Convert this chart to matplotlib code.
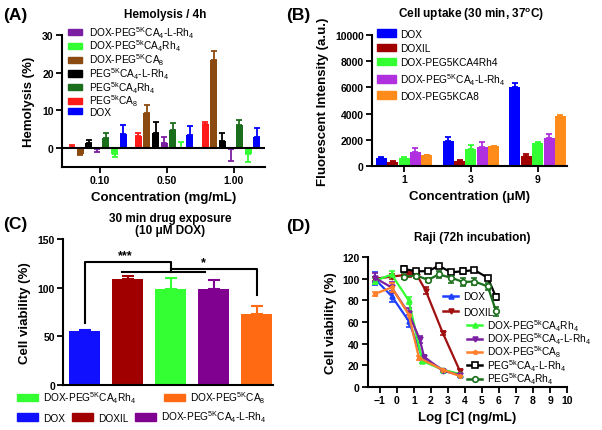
import matplotlib
matplotlib.use('Agg')
import matplotlib.pyplot as plt
from matplotlib.patches import Patch
from matplotlib.lines import Line2D
import numpy as np

plt.rcParams['font.family'] = ['Liberation Sans', 'DejaVu Sans']
plt.rcParams['mathtext.default'] = 'regular'
plt.rcParams['axes.linewidth'] = 1.5

# ---------------- data ----------------
# (A) hemolysis
hemo_conc = ['0.10', '0.50', '1.00']
hemo_names = ['PEG$^{5k}$CA$_8$', 'DOX-PEG$^{5K}$CA$_8$', 'PEG$^{5K}$CA$_4$-L-Rh$_4$',
              'DOX-PEG$^{5K}$CA$_4$-L-Rh$_4$', 'PEG$^{5k}$CA$_4$Rh$_4$',
              'DOX-PEG$^{5k}$CA$_4$Rh$_4$', 'DOX']
hemo_colors = ['#ff1a1a', '#8b4a10', '#000000', '#7b1fa2', '#1b6e1b', '#33ff33', '#0000ff']
hemo_vals = [[0.2, 3.2, 6.4],
             [-1.5, 9.2, 23.3],
             [1.4, 4.0, 1.8],
             [-0.3, 1.3, -0.3],
             [2.6, 4.7, 6.2],
             [-1.5, 0.0, -1.5],
             [3.7, 3.5, 3.1]]
hemo_err = [[0.7, 0.8, 0.6],
            [0.4, 2.2, 2.5],
            [0.9, 3.0, 2.2],
            [0.6, 1.6, 3.1],
            [1.3, 1.9, 1.3],
            [0.7, 1.6, 2.2],
            [2.5, 2.5, 2.2]]
hemo_legend_order = [3, 5, 1, 2, 4, 0, 6]

# (B) cell uptake
up_conc = ['1', '3', '9']
up_names = ['DOX', 'DOXIL', 'DOX-PEG5KCA4Rh4', 'DOX-PEG$^{5K}$CA$_4$-L-Rh$_4$', 'DOX-PEG5KCA8']
up_colors = ['#0000ff', '#a00000', '#33ff33', '#b030e0', '#ff8c1a']
up_vals = [[600, 1900, 6000],
           [300, 400, 760],
           [600, 1290, 1770],
           [1040, 1440, 2130],
           [810, 1520, 3850]]
up_err = [[60, 280, 330],
          [100, 30, 150],
          [60, 280, 80],
          [350, 360, 350],
          [20, 30, 70]]

# (C) viability after 30 min exposure
via_names = ['DOX', 'DOXIL', 'DOX-PEG$^{5K}$CA$_4$Rh$_4$', 'DOX-PEG$^{5K}$CA$_4$-L-Rh$_4$',
             'DOX-PEG$^{5K}$CA$_8$']
via_colors = ['#1010ff', '#a00000', '#33ff33', '#800090', '#ff6a13']
via_vals = [55.6, 109.5, 98.5, 98.5, 73.5]
via_err = [1.0, 2.5, 12.0, 9.5, 8.2]

# (D) Raji dose response
d_names = ['DOX', 'DOXIL', 'DOX-PEG$^{5k}$CA$_4$Rh$_4$', 'DOX-PEG$^{5k}$CA$_4$-L-Rh$_4$',
           'DOX-PEG$^{5k}$CA$_8$', 'PEG$^{5k}$CA$_4$-L-Rh$_4$', 'PEG$^{5k}$CA$_4$Rh$_4$']
d_colors = ['#1f3fff', '#a01010', '#33ff33', '#7a1fa2', '#ff7f2a', '#000000', '#1b6e1b']
d_markers = ['^', 'v', '^', 'v', '*', 's', 'o']
d_x = [[-1.3, -0.3, 0.7, 1.5, 2.7, 3.7],
       [-1.3, -0.3, 0.7, 1.2, 1.7, 2.7, 3.7],
       [-1.3, -0.3, 0.7, 1.5, 2.7, 3.7],
       [-1.3, -0.3, 0.7, 1.35, 1.6, 2.7, 3.7],
       [-1.3, -0.3, 0.7, 1.3, 2.7, 3.7],
       [0.43, 1.15, 1.84, 2.46, 3.2, 3.9, 4.56, 5.34, 5.83],
       [0.43, 1.15, 1.84, 2.46, 3.2, 3.9, 4.56, 5.34, 5.83]]
d_y = [[100, 84, 61, 27, 16, 11],
       [100, 102, 104, 103, 89, 50, 15],
       [98, 104, 80, 24, 16, 12],
       [101, 92, 68, 44, 28, 15, 11],
       [86, 92, 67, 27, 16, 10],
       [109, 107, 107, 112, 106, 107, 108, 101, 83],
       [102, 103, 99, 104, 101, 97, 97.5, 93, 70]]
d_e = [[6, 5, 6, 2, 1, 1],
       [2, 2, 2, 2, 3, 2, 2],
       [3, 3, 3, 2, 1, 1],
       [4, 5, 5, 3, 2, 1, 1],
       [2, 4, 3, 2, 1, 1],
       [3, 2, 2, 2, 2, 3, 2, 2, 3],
       [2, 2, 2, 3, 5, 4, 3, 3, 4]]

fig = plt.figure(figsize=(6.02, 4.31), dpi=100)
LAB = 9.5
LEG = 7.3


def style_axes(ax):
    ax.spines['top'].set_visible(False)
    ax.spines['right'].set_visible(False)
    ax.tick_params(direction='out', width=1.3, length=4, labelsize=7.5, pad=2)
    for lab in ax.get_xticklabels() + ax.get_yticklabels():
        lab.set_fontweight('bold')


# ---------------- (A) ----------------
axA = fig.add_axes([0.103, 0.61, 0.337, 0.3065])
nA = len(hemo_names)
gx = np.arange(len(hemo_conc))
for i in range(nA):
    vals = np.array(hemo_vals[i])
    err = np.array(hemo_err[i])
    xs = gx + (i - 3) * 0.129 - 0.04
    axA.bar(xs, vals, width=0.105, color=hemo_colors[i], zorder=2)
    lo = np.where(vals < 0, err, 0)
    hi = np.where(vals >= 0, err, 0)
    axA.errorbar(xs, vals, yerr=[lo, hi], fmt='none', ecolor=hemo_colors[i],
                 elinewidth=1.3, capsize=2.5, capthick=1.3, zorder=2)
axA.axhline(0, color='black', lw=1.5, zorder=3)
axA.set_xlim(-0.57, 2.47)
axA.set_ylim(-5, 30)
axA.set_yticks([0, 10, 20, 30])
axA.set_xticks(gx)
axA.set_xticklabels(hemo_conc)
axA.set_ylabel('Hemolysis (%)', fontsize=LAB, fontweight='bold', labelpad=5)
axA.set_xlabel('Concentration (mg/mL)', fontsize=LAB, fontweight='bold', labelpad=4)
style_axes(axA)
handles = [Patch(color=hemo_colors[i]) for i in hemo_legend_order]
labels = [hemo_names[i] for i in hemo_legend_order]
fig.legend(handles, labels, loc='upper left', bbox_to_anchor=(0.113, 0.942), frameon=False,
           fontsize=LEG, handlelength=1.35, handleheight=0.55, labelspacing=-0.18,
           handletextpad=0.75, borderaxespad=0, borderpad=0)
fig.text(0.274, 0.965, 'Hemolysis / 4h', ha='center', va='center', fontsize=8.5, fontweight='bold')

# ---------------- (B) ----------------
axB = fig.add_axes([0.618, 0.6125, 0.324, 0.304])
gx = np.arange(len(up_conc))
for i in range(len(up_names)):
    xs = gx + (i - 2) * 0.17
    axB.bar(xs, up_vals[i], width=0.165, color=up_colors[i], zorder=2)
    axB.errorbar(xs, up_vals[i], yerr=[np.zeros(3), up_err[i]], fmt='none', ecolor=up_colors[i],
                 elinewidth=1.3, capsize=2.5, capthick=1.3, zorder=2)
axB.set_xlim(-0.48, 2.44)
axB.set_ylim(0, 10000)
axB.set_yticks([0, 2000, 4000, 6000, 8000, 10000])
axB.set_xticks(gx)
axB.set_xticklabels(up_conc)
axB.set_ylabel('Fluorescent Intensity (a.u.)', fontsize=LAB, fontweight='bold', labelpad=4)
axB.set_xlabel('Concentration (\u03bcM)', fontsize=LAB, fontweight='bold', labelpad=4)
style_axes(axB)
handles = [Patch(color=c) for c in up_colors]
fig.legend(handles, up_names, loc='upper left', bbox_to_anchor=(0.626, 0.931), frameon=False,
           fontsize=LEG, handlelength=1.9, handleheight=0.75, labelspacing=0.4,
           handletextpad=0.35, borderaxespad=0, borderpad=0)
fig.text(0.782, 0.965, 'Cell uptake (30 min, 37$^o$C)', ha='center', va='center',
         fontsize=8.5, fontweight='bold')

# ---------------- (C) ----------------
axC = fig.add_axes([0.105, 0.104, 0.348, 0.339])
xc = np.arange(len(via_names))
axC.bar(xc, via_vals, width=0.72, color=via_colors, zorder=2)
for i in range(len(via_names)):
    axC.errorbar(xc[i], via_vals[i], yerr=[[0], [via_err[i]]], fmt='none', ecolor=via_colors[i],
                 elinewidth=1.5, capsize=4, capthick=1.5, zorder=2)
axC.set_xlim(-0.5, 4.37)
axC.set_ylim(0, 150)
axC.set_yticks([0, 50, 100, 150])
axC.set_xticks([])
axC.set_ylabel('Cell viability (%)', fontsize=LAB, fontweight='bold', labelpad=5)
style_axes(axC)
# significance brackets
axC.plot([0, 0, 2, 2], [64, 126, 126, 116.7], color='black', lw=1.5, clip_on=False)
axC.plot([0.86, 2.79], [116.7, 116.7], color='black', lw=1.5)
axC.plot([2, 4, 4], [119, 119, 93], color='black', lw=1.5, clip_on=False)
axC.text(0.95, 127, '***', ha='center', va='bottom', fontsize=9, fontweight='bold')
axC.text(2.75, 120, '*', ha='center', va='bottom', fontsize=9, fontweight='bold')
fig.text(0.283, 0.478, '30 min drug exposure\n(10 \u03bcM DOX)', ha='center', va='center',
         fontsize=8.5, fontweight='bold', linespacing=1.05)
h1 = [Patch(color=via_colors[2]), Patch(color=via_colors[4])]
fig.legend(h1, [via_names[2], via_names[4]], loc='center left', bbox_to_anchor=(0.028, 0.076),
           ncol=2, frameon=False, fontsize=LEG, handlelength=2.1, handleheight=0.75,
           handletextpad=0.45, columnspacing=2.8, borderaxespad=0, borderpad=0)
h2 = [Patch(color=via_colors[0]), Patch(color=via_colors[1]), Patch(color=via_colors[3])]
fig.legend(h2, [via_names[0], via_names[1], via_names[3]], loc='center left',
           bbox_to_anchor=(0.028, 0.031), ncol=3, frameon=False, fontsize=LEG, handlelength=2.1,
           handleheight=0.75, handletextpad=0.45, columnspacing=0.7, borderaxespad=0, borderpad=0)

# ---------------- (D) ----------------
axD = fig.add_axes([0.611, 0.0998, 0.331, 0.3012])
dh = []
for i in range(len(d_names)):
    open_m = d_markers[i] in ('s', 'o')
    axD.errorbar(d_x[i], d_y[i], yerr=d_e[i], color=d_colors[i], marker=d_markers[i],
                 ms=4 if open_m else 3.5, mfc='white' if open_m else d_colors[i],
                 mew=1.2, lw=1.6, elinewidth=1.2, capsize=2, capthick=1.2)
    dh.append(Line2D([], [], color=d_colors[i], marker=d_markers[i], lw=1.8,
                     ms=4 if open_m else 3.5, mfc='white' if open_m else d_colors[i], mew=1.2))
axD.set_xlim(-1.7, 10)
axD.set_ylim(0, 120)
axD.set_xticks(np.arange(-1, 11))
axD.set_yticks(np.arange(0, 121, 20))
axD.set_ylabel('Cell viability (%)', fontsize=LAB, fontweight='bold', labelpad=4)
axD.set_xlabel('Log [C] (ng/mL)', fontsize=LAB, fontweight='bold', labelpad=4)
style_axes(axD)
fig.legend(dh[:2], d_names[:2], loc='upper left', bbox_to_anchor=(0.736, 0.322),
           frameon=False, fontsize=LEG, handlelength=1.5, handletextpad=0.5,
           labelspacing=0.55, borderaxespad=0, borderpad=0)
fig.legend(dh[2:], d_names[2:], loc='upper left', bbox_to_anchor=(0.776, 0.262),
           frameon=False, fontsize=LEG, handlelength=1.5, handletextpad=0.5,
           labelspacing=-0.22, borderaxespad=0, borderpad=0)
fig.text(0.784, 0.448, 'Raji (72h incubation)', ha='center', va='center',
         fontsize=8.5, fontweight='bold')

# panel labels
for lab, x, y in [('(A)', 0.005, 0.965), ('(B)', 0.475, 0.965), ('(C)', 0.005, 0.478), ('(D)', 0.475, 0.475)]:
    fig.text(x, y, lab, ha='left', va='center', fontsize=12.5, fontweight='bold')

fig.savefig('out.png', dpi=100)
